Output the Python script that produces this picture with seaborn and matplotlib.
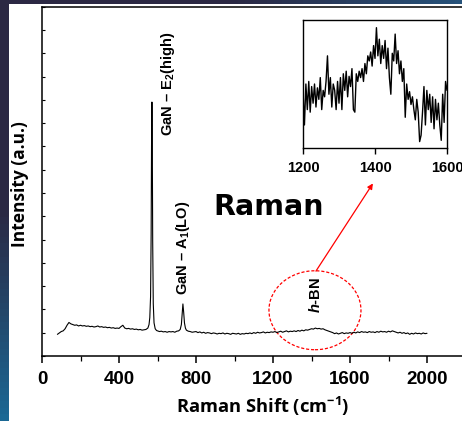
import numpy as np
import matplotlib
matplotlib.use('Agg')
import matplotlib.pyplot as plt
import seaborn as sns
from matplotlib.patches import Ellipse
from matplotlib.ticker import MultipleLocator
from matplotlib.colors import LinearSegmentedColormap

# main Raman spectrum (cm-1, arbitrary intensity)
shift = [80, 90, 100, 110, 120, 130, 140, 150, 160, 170, 180, 190, 200, 210, 220, 230, 240, 250,
         260, 270, 280, 290, 300, 310, 320, 330, 340, 350, 360, 370, 380, 390, 400, 410, 420, 430,
         440, 450, 460, 470, 480, 490, 500, 510, 520, 530, 540, 550, 556, 560, 564, 567, 569, 571,
         573, 575, 578, 582, 588, 595, 600, 610, 620, 630, 640, 650, 660, 670, 680, 690, 700, 710,
         718, 724, 728, 732, 736, 740, 745, 750, 760, 770, 780, 790, 800, 810, 820, 830, 840, 850,
         860, 870, 880, 890, 900, 910, 920, 930, 940, 950, 960, 970, 980, 990, 1000, 1010, 1020,
         1030, 1040, 1050, 1060, 1070, 1080, 1090, 1100, 1110, 1120, 1130, 1140, 1150, 1160, 1170,
         1180, 1190, 1200, 1210, 1220, 1230, 1240, 1250, 1260, 1270, 1280, 1290, 1300, 1310, 1320,
         1330, 1340, 1350, 1360, 1370, 1380, 1390, 1400, 1410, 1420, 1430, 1440, 1450, 1460, 1470,
         1480, 1490, 1500, 1510, 1520, 1530, 1540, 1550, 1560, 1570, 1580, 1590, 1600, 1610, 1620,
         1630, 1640, 1650, 1660, 1670, 1680, 1690, 1700, 1710, 1720, 1730, 1740, 1750, 1760, 1770,
         1780, 1790, 1800, 1810, 1820, 1830, 1840, 1850, 1860, 1870, 1880, 1890, 1900, 1910, 1920,
         1930, 1940, 1950, 1960, 1970, 1980, 1990, 2000]
intensity = [62, 66, 70, 72, 78, 88, 96, 92, 90, 88, 89, 86, 88, 86, 87, 85, 86, 84,
             85, 83, 84, 86, 83, 84, 82, 83, 81, 82, 80, 81, 79, 80, 79, 84, 88, 80,
             78, 79, 77, 78, 76, 77, 75, 76, 74, 75, 76, 80, 90, 110, 170, 350, 600, 727,
             600, 330, 150, 95, 78, 73, 72, 70, 71, 69, 70, 68, 70, 69, 70, 68, 71, 72,
             76, 90, 120, 149, 125, 95, 80, 74, 71, 70, 68, 69, 70, 67, 69, 66, 68, 65,
             67, 66, 64, 66, 65, 63, 65, 64, 66, 63, 65, 64, 62, 65, 64, 63, 65,
             62, 64, 63, 65, 64, 66, 64, 67, 65, 68, 66, 67, 69, 66, 68,
             67, 69, 68, 70, 67, 69, 71, 68, 70, 72, 69, 71, 70, 72, 70,
             73, 71, 74, 72, 75, 74, 76, 78, 77, 80, 78, 79, 77, 78, 75,
             73, 71, 69, 67, 64, 66, 63, 65, 67, 64, 66, 65, 67, 65, 68,
             66, 69, 67, 70, 68, 69, 67, 70, 68, 69, 67, 70, 68, 71, 69,
             70, 68, 71, 69, 72, 70, 68, 66, 68, 65, 67, 64, 66, 62, 65,
             63, 66, 64, 65, 63, 66, 64, 65]

# zoomed h-BN region
inset_shift = list(range(1200, 1601, 4))
inset_intensity = [45, 18, 50, 30, 52, 28, 48, 35, 50, 32,
                   47, 38, 55, 30, 45, 40, 52, 72, 42, 55,
                   32, 50, 45, 30, 52, 35, 55, 30, 58, 45,
                   60, 40, 56, 48, 62, 30, 28, 58, 52, 60,
                   55, 62, 52, 66, 58, 72, 68, 75, 64, 80,
                   70, 94, 72, 85, 66, 80, 70, 84, 62, 78,
                   55, 42, 74, 68, 89, 66, 76, 58, 68, 52,
                   62, 24, 50, 38, 44, 34, 40, 30, 22, 38,
                   28, 5, 10, 28, 48, 18, 45, 30, 42, 20,
                   40, 15, 38, 22, 35, 18, 6, 42, 20, 52,
                   45]

x_ticks = [0, 400, 800, 1200, 1600, 2000]
inset_ticks = [1200, 1400, 1600]

sns.set_style('white')
plt.rcParams['text.color'] = 'black'
plt.rcParams['axes.labelcolor'] = 'black'
plt.rcParams['xtick.color'] = 'black'
plt.rcParams['ytick.color'] = 'black'
plt.rcParams['mathtext.fontset'] = 'custom'
plt.rcParams['mathtext.it'] = 'Liberation Sans:italic:bold'
plt.rcParams['mathtext.rm'] = 'Liberation Sans:bold'
plt.rcParams['mathtext.bf'] = 'Liberation Sans:bold'
plt.rcParams['mathtext.default'] = 'regular'

fig = plt.figure(figsize=(4.62, 4.21), dpi=100)
fig.patch.set_facecolor('white')

# dark slide background strips
left_bg = fig.add_axes([0, 0, 9 / 462, 1])
left_bg.imshow(np.linspace(0, 1, 64).reshape(-1, 1), aspect='auto',
               cmap=LinearSegmentedColormap.from_list('l', ['#2b2843', '#2b2843', '#1b6894']))
left_bg.axis('off')
top_bg = fig.add_axes([0, 1 - 4 / 421, 1, 4 / 421])
top_bg.imshow(np.linspace(0, 1, 64).reshape(1, -1), aspect='auto',
              cmap=LinearSegmentedColormap.from_list('t', ['#2b2843', '#2b2843', '#26527a']))
top_bg.axis('off')

ax = fig.add_axes([42 / 462, 65 / 421, 423.5 / 462, 349.3 / 421])
sns.lineplot(x=shift, y=intensity, ax=ax, color='black', linewidth=0.8, estimator=None)
ax.set_xlim(0, 2200)
ax.set_ylim(0, 1000)
ax.set_xticks(x_ticks)
ax.xaxis.set_minor_locator(MultipleLocator(200))
ax.set_yticks(np.linspace(0, 1000, 16))
ax.tick_params(axis='y', direction='in', length=2.5, width=0.8, left=True, labelleft=False)
ax.tick_params(axis='x', which='major', direction='out', length=5, width=1.1, bottom=True, pad=5.5)
ax.tick_params(axis='x', which='minor', direction='out', length=3.5, width=0.9, bottom=True)
for lab in ax.get_xticklabels():
    lab.set_fontfamily('Liberation Sans')
    lab.set_fontweight('bold')
    lab.set_fontsize(13.5)
for s in ax.spines.values():
    s.set_linewidth(1.1)
    s.set_color('black')

# peak labels
ax.text(657, 631, 'GaN – E$_2$(high)', rotation=90, ha='center', va='bottom',
        fontsize=10.5, fontweight='bold', family='Liberation Sans')
ax.text(732, 174, 'GaN – A$_1$(LO)', rotation=90, ha='center', va='bottom',
        fontsize=10.5, fontweight='bold', family='Liberation Sans')
ax.text(1421, 123, r'$\mathit{h}$-BN', rotation=90, ha='center', va='bottom',
        fontsize=10.5, fontweight='bold', family='Liberation Sans')
ax.text(1176, 403, 'Raman', ha='center', va='baseline', fontsize=20.5,
        fontweight='bold', family='DejaVu Sans')

ax.add_patch(Ellipse((1418, 131), 478, 226, fill=False, edgecolor='red',
                     linewidth=0.9, linestyle=(0, (2.5, 1.5))))
ax.annotate('', xy=(1719, 494), xytext=(1423, 243),
            arrowprops=dict(arrowstyle='-|>', color='red', lw=0.9, mutation_scale=8,
                            shrinkA=0, shrinkB=0))

fig.text(20.5 / 462, 1 - 184 / 421, 'Intensity (a.u.)', rotation=90, ha='center', va='center',
         fontsize=12.5, fontweight='bold', family='Open Sans')
fig.text(263 / 462, 1 - 406 / 421, 'Raman Shift (cm$^{-1}$)', ha='center', va='center',
         fontsize=13.2, fontweight='bold', family='Open Sans')

# inset
axin = fig.add_axes([303 / 462, 1 - 148 / 421, 144 / 462, 128 / 421])
sns.lineplot(x=inset_shift, y=inset_intensity, ax=axin, color='black', linewidth=1.0, estimator=None)
axin.set_xlim(1200, 1600)
axin.set_ylim(0, 100)
axin.set_xticks(inset_ticks)
axin.set_yticks([])
axin.tick_params(axis='x', direction='out', length=4, width=1.0, bottom=True, pad=5.5)
for lab in axin.get_xticklabels():
    lab.set_fontfamily('Liberation Sans')
    lab.set_fontweight('bold')
    lab.set_fontsize(10.5)
for s in axin.spines.values():
    s.set_linewidth(1.0)
    s.set_color('black')

fig.savefig('out.png', dpi=100)
